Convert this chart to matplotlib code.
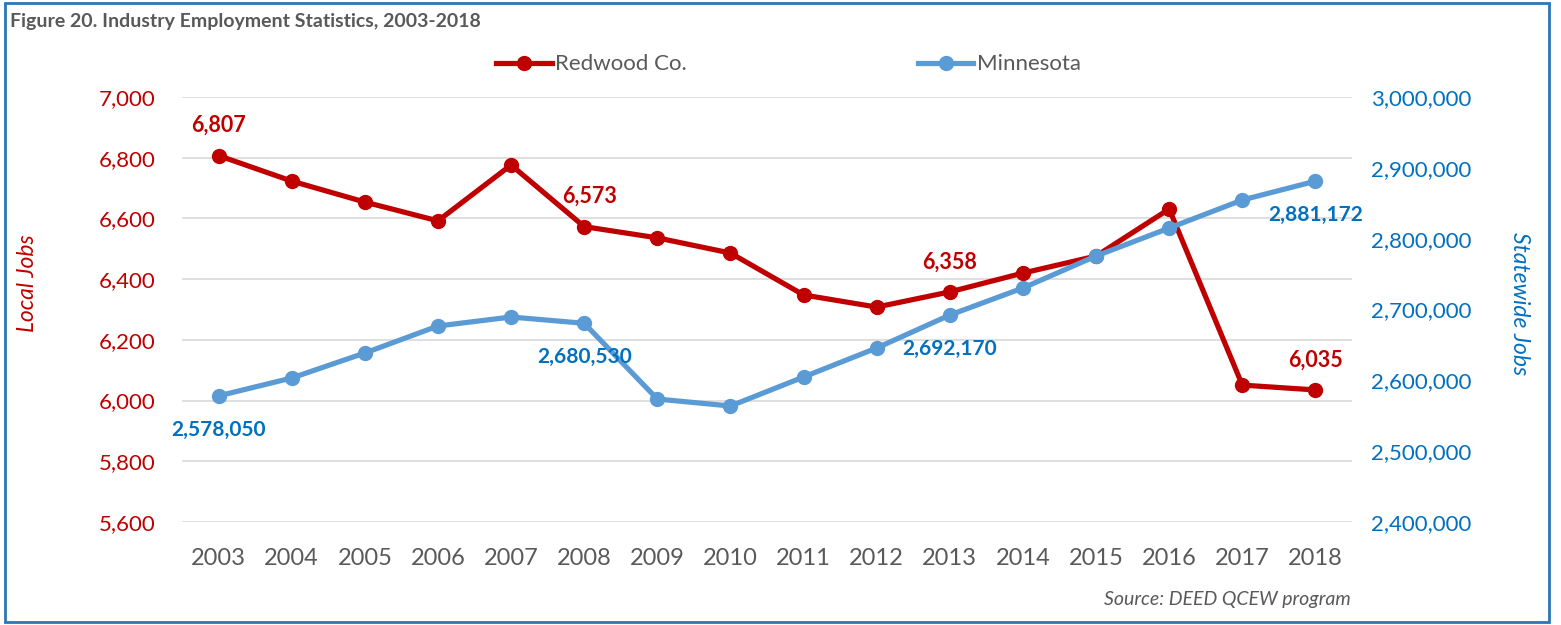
import matplotlib
matplotlib.use("Agg")
from matplotlib import pyplot as plt
from matplotlib.ticker import FuncFormatter
from matplotlib.patches import Rectangle

years = ['2003', '2004', '2005', '2006', '2007', '2008', '2009', '2010',
         '2011', '2012', '2013', '2014', '2015', '2016', '2017', '2018']
redwood = [6807, 6723, 6654, 6592, 6776, 6573, 6536, 6486,
           6348, 6308, 6358, 6420, 6476, 6631, 6051, 6035]
minnesota = [2578050, 2603300, 2638600, 2676700, 2689400, 2680530, 2573600, 2563750,
             2604700, 2645640, 2692170, 2730350, 2775500, 2815000, 2854600, 2881172]
red_labels = [0, 5, 10, 15]      # points with a value label
blue_labels = [0, 5, 10, 15]

RED = '#C00000'
BLUE_LINE = '#5B9BD5'
BLUE_TXT = '#0070C0'
GRAY = '#595959'

plt.rcParams['font.family'] = ['Lato', 'DejaVu Sans']

fig = plt.figure(figsize=(15.61, 6.25), dpi=100)
ax = fig.add_axes([0.1166, 0.1648, 0.7495, 0.68])
ax2 = ax.twinx()

x = range(len(years))
ax.plot(x, redwood, '-o', color=RED, lw=3.75, ms=10, label='Redwood Co.', zorder=3)
ax2.plot(x, minnesota, '-o', color=BLUE_LINE, lw=3.75, ms=10, label='Minnesota', zorder=3)

ax.set_xlim(-0.5, len(years) - 0.5)
ax.set_ylim(5600, 7000)
ax2.set_ylim(2400000, 3000000)
ax.set_yticks(range(5600, 7001, 200))
ax2.set_yticks(range(2400000, 3000001, 100000))
ax.set_xticks(list(x))
ax.set_xticklabels(years)

comma = FuncFormatter(lambda v, p: f'{int(v):,}')
ax.yaxis.set_major_formatter(comma)
ax2.yaxis.set_major_formatter(comma)

ax.grid(axis='y', color='#D9D9D9', lw=1.2)
ax.set_axisbelow(True)
for a in (ax, ax2):
    for s in a.spines.values():
        s.set_visible(False)
ax.tick_params(axis='y', length=0, labelsize=16, labelcolor=RED, pad=19)
ax.tick_params(axis='x', length=0, labelsize=17, labelcolor=GRAY, pad=19)
ax2.tick_params(axis='y', length=0, labelsize=16, labelcolor=BLUE_TXT, pad=14)

ax.set_ylabel('Local Jobs', color=RED, fontsize=16.5, style='italic')
ax.yaxis.set_label_coords(-0.123, 0.562)
ax2.set_ylabel('Statewide Jobs', color=BLUE_TXT, fontsize=16.5, style='italic', rotation=270)
ax2.yaxis.set_label_coords(1.152, 0.515)

for i in red_labels:
    ax.annotate(f'{redwood[i]:,}', (i, redwood[i]), xytext=(4 if i == 5 else 0, 14),
                textcoords='offset points', ha='center', va='bottom',
                color=RED, fontsize=15.5, fontweight='bold')
for i in blue_labels:
    ax2.annotate(f'{minnesota[i]:,}', (i, minnesota[i]), xytext=(0, -17),
                 textcoords='offset points', ha='center', va='top',
                 color=BLUE_TXT, fontsize=15, fontweight='bold')

h1, l1 = ax.get_legend_handles_labels()
h2, l2 = ax2.get_legend_handles_labels()
fig.legend(h1 + h2, l1 + l2, loc='center', bbox_to_anchor=(0.505, 0.897), ncol=2,
           frameon=False, fontsize=16, labelcolor=GRAY, handlelength=2.5,
           handletextpad=0.15, columnspacing=10.4)

fig.text(0.0064, 0.965, 'Figure 20. Industry Employment Statistics, 2003-2018',
         fontsize=14, fontweight='bold', color=GRAY, ha='left', va='center')
fig.text(0.865, 0.04, 'Source: DEED QCEW program', fontsize=14, style='italic',
         color=GRAY, ha='right', va='center')

fig.patches.append(Rectangle((0.003, 0.005), 0.989, 0.99, transform=fig.transFigure,
                             fill=False, edgecolor='#2E75B6', lw=2))

fig.savefig('out.png', dpi=100)
